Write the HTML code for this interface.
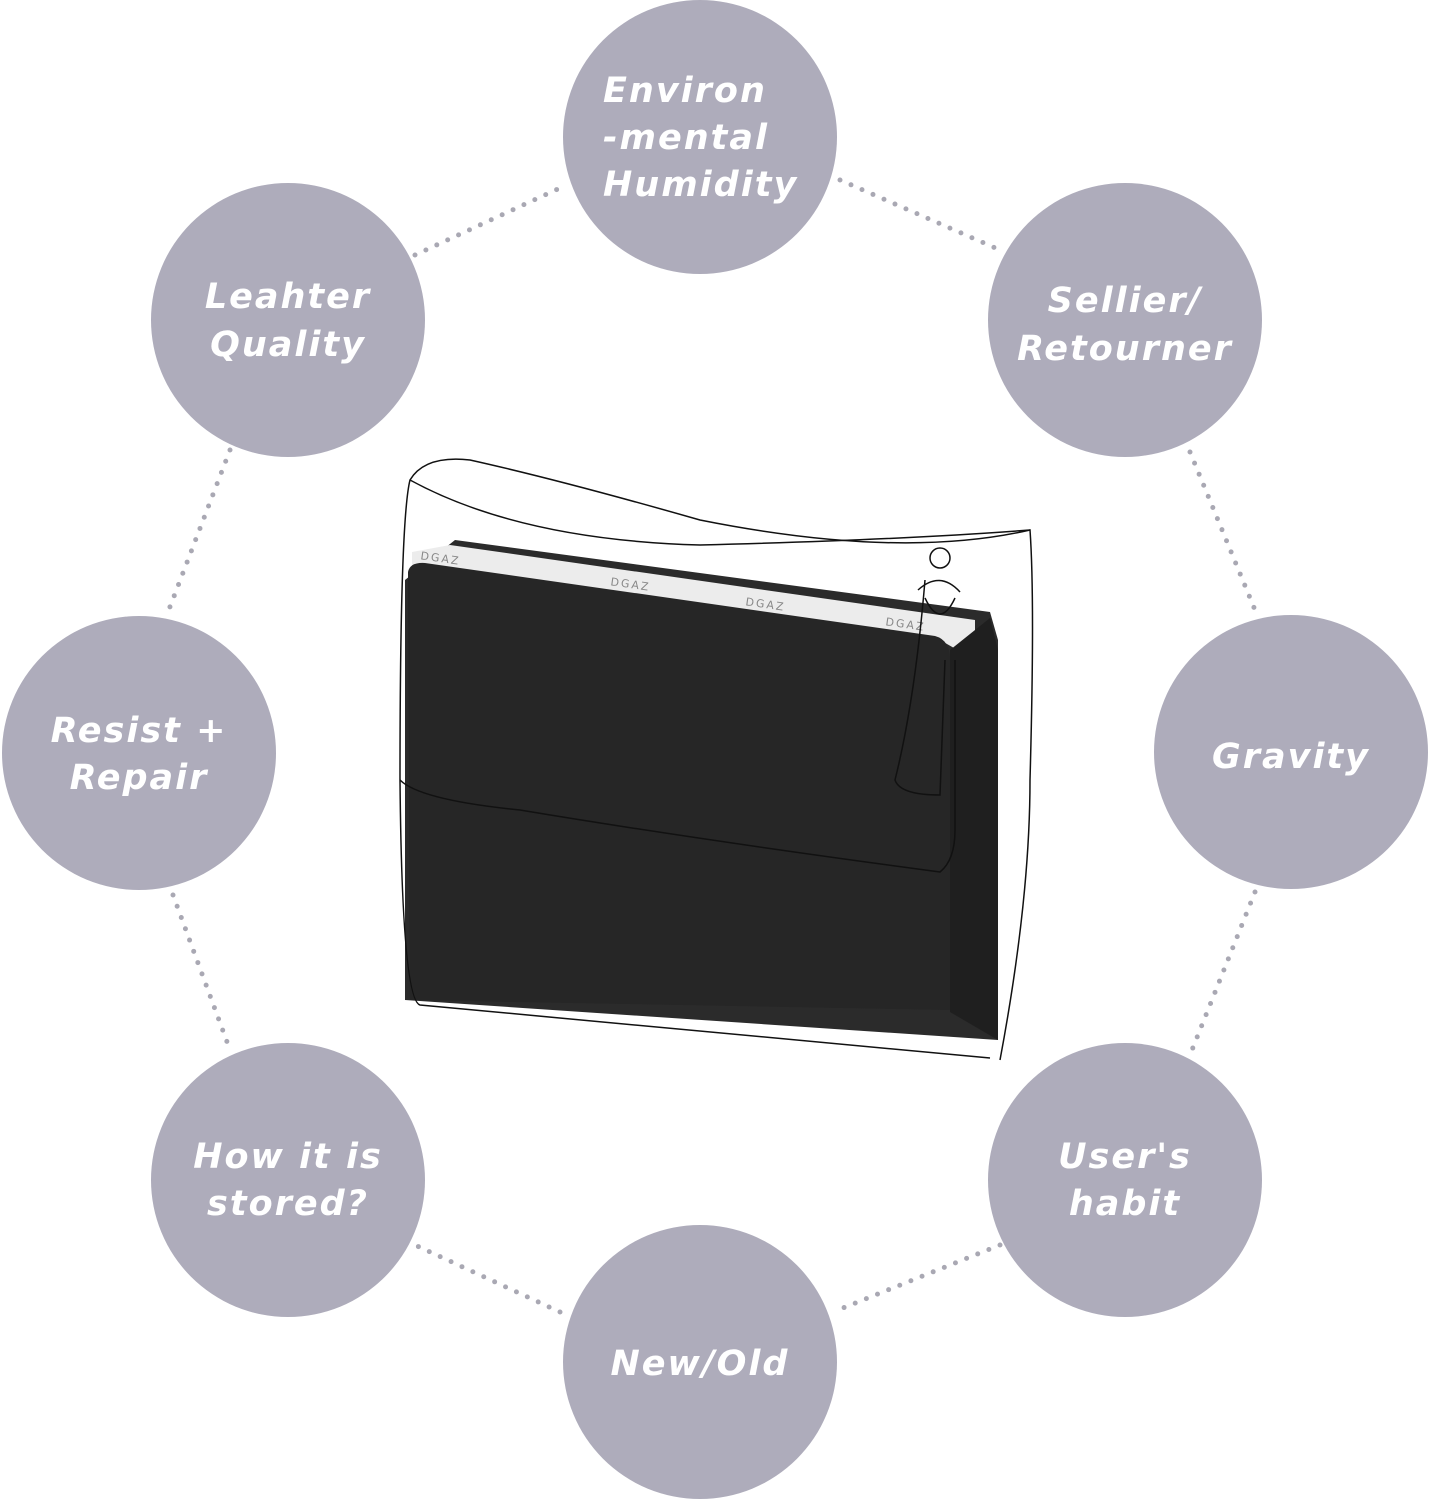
<!DOCTYPE html>
<html><head><meta charset="utf-8"><style>
html,body{margin:0;padding:0;background:#fff;}
svg{display:block;}
text{font-family:"DejaVu Sans","Liberation Sans",sans-serif;font-weight:bold;font-style:italic;fill:#fff;font-size:35px;letter-spacing:2px;text-anchor:middle;}
</style></head><body>
<svg width="1431" height="1500" viewBox="0 0 1431 1500" xmlns="http://www.w3.org/2000/svg">
<g stroke="#a9a8b3" stroke-width="5" stroke-linecap="round" stroke-dasharray="0 12" fill="none">
<line x1="415" y1="255" x2="560" y2="188"/>
<line x1="840" y1="180" x2="1000" y2="250"/>
<line x1="1190" y1="452" x2="1255" y2="610"/>
<line x1="1255" y1="892" x2="1190" y2="1055"/>
<line x1="1000" y1="1245" x2="838" y2="1310"/>
<line x1="560" y1="1312" x2="415" y2="1245"/>
<line x1="173" y1="895" x2="230" y2="1050"/>
<line x1="230" y1="450" x2="168" y2="612"/>
</g>
<g fill="#aeacbb">
<circle cx="700" cy="137" r="137"/>
<circle cx="288" cy="320" r="137"/>
<circle cx="1125" cy="320" r="137"/>
<circle cx="139" cy="753" r="137"/>
<circle cx="1291" cy="752" r="137"/>
<circle cx="288" cy="1180" r="137"/>
<circle cx="1125" cy="1180" r="137"/>
<circle cx="700" cy="1362" r="137"/>
</g>
<text x="603" y="102" style="text-anchor:start">Environ</text>
<text x="603" y="149" style="text-anchor:start">-mental</text>
<text x="603" y="196" style="text-anchor:start">Humidity</text>
<text x="288" y="308">Leahter</text>
<text x="288" y="356">Quality</text>
<text x="1125" y="312">Sellier/</text>
<text x="1125" y="360">Retourner</text>
<text x="139" y="742">Resist +</text>
<text x="139" y="789">Repair</text>
<text x="1291" y="768">Gravity</text>
<text x="288" y="1168">How it is</text>
<text x="288" y="1215">stored?</text>
<text x="1125" y="1168">User's</text>
<text x="1125" y="1215">habit</text>
<text x="700" y="1375">New/Old</text>

<!-- bag -->
<path d="M455 540 L990 612 L998 640 L998 1040 L405 1000 L405 580 Z" fill="#2b2b2b"/>
<path d="M412 552 L450 545 L975 620 L975 660 L940 640 L412 570 Z" fill="#ececec"/>
<path d="M408 572 Q410 562 425 563 L935 636 Q950 640 950 660 L950 1010 L410 1000 Z" fill="#262626"/>
<path d="M950 650 L990 618 L998 650 L998 1040 L950 1012 Z" fill="#1f1f1f"/>
<g font-family="Liberation Sans" font-size="11" fill="#888" style="font-style:normal;font-weight:normal">
<text x="440" y="562" transform="rotate(8 440 562)" style="fill:#888;font-size:11px;font-weight:normal;font-style:normal">DGAZ</text>
<text x="630" y="588" transform="rotate(8 630 588)" style="fill:#888;font-size:11px;font-weight:normal;font-style:normal">DGAZ</text>
<text x="765" y="608" transform="rotate(8 765 608)" style="fill:#888;font-size:11px;font-weight:normal;font-style:normal">DGAZ</text>
<text x="905" y="628" transform="rotate(8 905 628)" style="fill:#888;font-size:11px;font-weight:normal;font-style:normal">DGAZ</text>
</g>
<g fill="none" stroke="#111" stroke-width="1.5">
<path d="M400 780 Q400 520 410 480 Q425 455 470 460 Q560 480 700 520 Q900 560 1030 530 Q1035 600 1030 780 Q1030 900 1000 1060"/>
<path d="M410 480 Q520 540 700 545 Q900 540 1030 530"/>
<path d="M400 780 Q402 1000 420 1005 L990 1058"/>
<path d="M400 780 Q420 800 520 810 Q700 840 940 872 Q955 860 955 830 L955 660"/>
<path d="M925 580 Q915 700 895 780 Q900 795 940 795 L945 660"/>
<circle cx="940" cy="558" r="10"/>
<path d="M918 590 Q940 570 960 592 M925 598 Q940 630 955 598"/>
</g>
</svg>
</body></html>
